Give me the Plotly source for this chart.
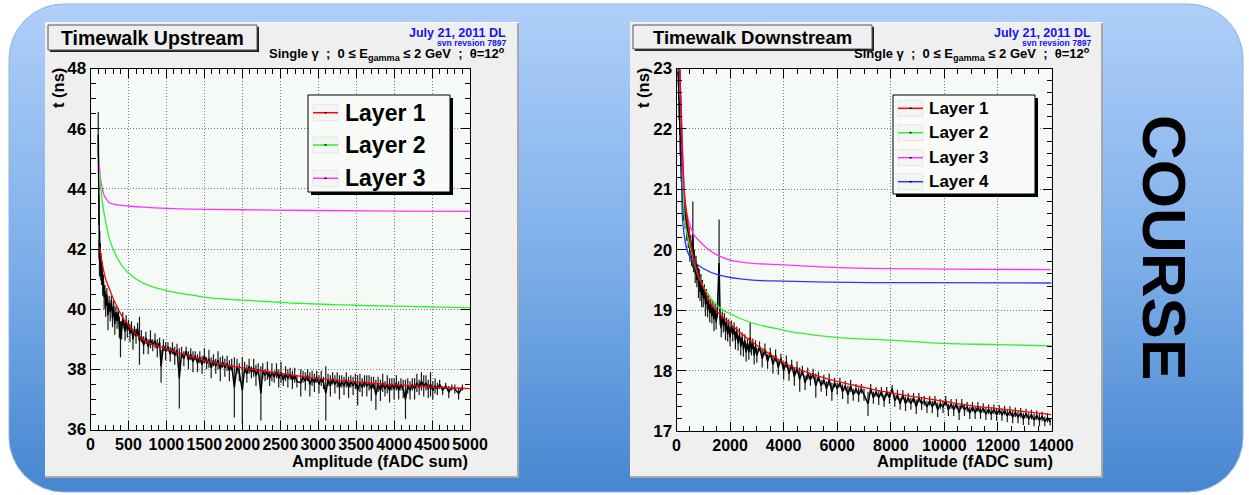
import base64
import plotly.graph_objects as go

W, H = 1249, 495
FONT = "Liberation Sans"

# ---------------- data: upstream (left) ----------------
up_amp = [102, 106, 110, 114, 118, 122, 126, 130, 135, 140,
          145, 150, 160, 170, 180, 190, 200, 215, 230, 245,
          260, 275, 290, 305, 320, 335, 350, 365, 380, 395,
          410, 425, 440, 455, 470, 485, 500, 520, 540, 560,
          580, 600, 620, 645, 670, 700, 730, 760, 790, 820,
          850, 880, 910, 930, 960, 990, 1020, 1050, 1080, 1110,
          1140, 1170, 1200, 1230, 1260, 1290, 1320, 1350, 1380, 1410,
          1440, 1470, 1500, 1530, 1560, 1590, 1620, 1650, 1680, 1710,
          1740, 1770, 1800, 1830, 1860, 1895, 1930, 1960, 2000, 2030,
          2060, 2090, 2120, 2150, 2180, 2210, 2245, 2270, 2300, 2330,
          2360, 2390, 2420, 2450, 2480, 2510, 2540, 2570, 2600, 2630,
          2660, 2690, 2720, 2770, 2800, 2830, 2860, 2890, 2920, 2950,
          2980, 3010, 3040, 3070, 3100, 3130, 3160, 3190, 3220, 3250,
          3280, 3310, 3340, 3370, 3400, 3430, 3460, 3490, 3520, 3550,
          3580, 3610, 3640, 3670, 3700, 3730, 3760, 3790, 3820, 3850,
          3880, 3910, 3940, 3970, 4000, 4030, 4060, 4090, 4120, 4150,
          4180, 4210, 4240, 4270, 4300, 4330, 4360, 4390, 4420, 4450,
          4480, 4510, 4540, 4570, 4600, 4640, 4680, 4720, 4760, 4800,
          4850, 4900]
up_t = [45.8, 44.7, 43.3, 42.0, 41.7, 42.2, 41.5, 41.9, 41.3, 41.6,
        41.1, 41.4, 40.8, 40.95, 40.4, 40.6, 40.1, 40.5, 39.8, 40.2,
        39.9, 40.3, 39.7, 40.1, 39.5, 39.9, 39.6, 39.9, 39.4, 39.0,
        39.3, 39.7, 39.5, 39.25, 39.6, 39.3, 39.5, 39.2, 39.4, 39.0,
        39.3, 39.1, 39.35, 38.95, 39.1, 38.8, 39.05, 38.75, 39.0, 38.8,
        38.95, 38.7, 38.9, 38.1, 38.8, 38.6, 38.75, 38.5, 38.7, 38.45,
        38.65, 37.7, 38.55, 38.35, 38.6, 38.3, 38.5, 38.25, 38.45, 38.2,
        38.4, 38.15, 38.45, 38.2, 38.35, 38.05, 38.3, 38.1, 38.3, 38.0,
        38.25, 38.05, 38.2, 37.95, 38.15, 37.4, 38.1, 37.9, 37.3, 38.05,
        37.85, 38.1, 37.9, 38.05, 37.8, 38.0, 37.2, 37.95, 37.8, 37.95,
        37.7, 37.9, 37.75, 37.95, 37.7, 37.9, 37.65, 37.85, 37.7, 37.85,
        37.65, 37.8, 37.6, 37.55, 37.75, 37.6, 37.8, 37.5, 37.7, 37.55,
        37.75, 37.5, 37.7, 37.55, 37.2, 37.65, 37.45, 37.7, 37.5, 37.65,
        37.4, 37.6, 37.45, 37.65, 37.4, 37.6, 37.45, 37.6, 37.3, 37.55,
        37.4, 37.6, 37.45, 37.55, 37.35, 37.55, 37.15, 37.5, 37.3, 37.55,
        37.35, 37.5, 37.3, 37.5, 37.35, 37.55, 37.3, 37.5, 37.35, 37.0,
        37.45, 37.3, 37.5, 37.35, 37.55, 37.4, 37.6, 37.45, 37.55, 37.35,
        37.5, 37.3, 37.45, 37.35, 37.5, 37.3, 37.45, 37.25, 37.4, 37.35,
        37.2, 37.4]
up_err = [0.75, 0.3, 0.5, 0.35, 0.6, 0.4, 0.45, 0.3, 0.35, 0.25,
          0.3, 0.2, 0.35, 0.2, 0.4, 0.2, 0.35, 0.2, 0.5, 0.25,
          0.3, 0.15, 0.3, 0.2, 0.35, 0.2, 0.25, 0.15, 0.35, 0.6,
          0.3, 0.2, 0.15, 0.3, 0.2, 0.25, 0.15, 0.3, 0.2, 0.35,
          0.15, 0.25, 0.2, 0.8, 0.2, 0.3, 0.2, 0.25, 0.3, 0.2,
          0.25, 0.3, 0.15, 0.55, 0.2, 0.3, 0.15, 0.25, 0.2, 0.3,
          0.2, 1.0, 0.2, 0.25, 0.15, 0.3, 0.2, 0.35, 0.15, 0.3,
          0.2, 0.3, 0.25, 0.2, 0.3, 0.35, 0.2, 0.25, 0.3, 0.4,
          0.2, 0.3, 0.25, 0.35, 0.2, 1.0, 0.25, 0.3, 1.1, 0.2,
          0.3, 0.25, 0.2, 0.3, 0.35, 0.2, 0.9, 0.25, 0.2, 0.3,
          0.25, 0.3, 0.2, 0.25, 0.3, 0.35, 0.2, 0.25, 0.3, 0.2,
          0.3, 0.25, 0.2, 0.45, 0.2, 0.3, 0.2, 0.4, 0.25, 0.3,
          0.2, 0.3, 0.25, 0.2, 0.9, 0.2, 0.35, 0.2, 0.3, 0.25,
          0.4, 0.2, 0.3, 0.25, 0.35, 0.2, 0.3, 0.25, 0.5, 0.3,
          0.3, 0.2, 0.35, 0.25, 0.4, 0.2, 0.5, 0.25, 0.35, 0.3,
          0.25, 0.3, 0.4, 0.2, 0.35, 0.25, 0.3, 0.2, 0.3, 0.65,
          0.25, 0.3, 0.2, 0.35, 0.3, 0.25, 0.3, 0.35, 0.25, 0.3,
          0.4, 0.3, 0.25, 0.2, 0.15, 0.15, 0.1, 0.2, 0.1, 0.15,
          0.2, 0.1]

up_fit_amp = [120, 160, 200, 250, 300, 350, 400, 450, 500, 600, 700, 800, 900, 1000,
              1100, 1200, 1300, 1400, 1500, 1600, 1700, 1800, 1900, 2000, 2200, 2400,
              2600, 2800, 3000, 3200, 3400, 3600, 3800, 4000, 4200, 4400, 4600, 4800, 5000]
up_fit_L1 = [42.05, 41.45, 41.0, 40.67, 40.35, 40.08, 39.83, 39.62, 39.46, 39.17, 38.98,
             38.84, 38.76, 38.69, 38.6, 38.52, 38.44, 38.37, 38.30, 38.24, 38.19, 38.13,
             38.09, 38.05, 37.97, 37.90, 37.83, 37.76, 37.69, 37.65, 37.60, 37.56, 37.52,
             37.49, 37.46, 37.43, 37.40, 37.38, 37.36]
up_fit_L2 = [44.5, 43.5, 42.9, 42.33, 41.98, 41.71, 41.5, 41.33, 41.2, 41.0, 40.86,
             40.76, 40.68, 40.62, 40.57, 40.52, 40.48, 40.44, 40.4, 40.37, 40.35, 40.33,
             40.31, 40.3, 40.27, 40.24, 40.21, 40.19, 40.17, 40.15, 40.14, 40.12, 40.11,
             40.10, 40.09, 40.08, 40.07, 40.06, 40.05]
up_L3_amp = [118, 140, 184, 250, 350, 500, 700, 1000, 1500, 2230, 3000, 4000, 5000]
up_fit_L3 = [44.75, 44.2, 43.76, 43.54, 43.47, 43.43, 43.39, 43.35, 43.32, 43.3, 43.28, 43.26, 43.25]

# ---------------- data: downstream (right) ----------------
dn_amp = [60, 80, 100, 120, 140, 160, 180, 200, 230, 260,
          290, 320, 350, 380, 410, 440, 470, 500, 530, 560,
          590, 610, 640, 670, 700, 730, 760, 790, 820, 850,
          880, 910, 940, 970, 1000, 1040, 1080, 1120, 1160, 1200,
          1240, 1280, 1320, 1360, 1400, 1440, 1480, 1520, 1590, 1630,
          1670, 1710, 1750, 1790, 1830, 1870, 1910, 1950, 2000, 2050,
          2100, 2150, 2200, 2250, 2300, 2350, 2400, 2450, 2500, 2550,
          2600, 2650, 2700, 2750, 2800, 2850, 2900, 2950, 3000, 3100,
          3200, 3300, 3400, 3500, 3600, 3700, 3800, 3900, 4000, 4100,
          4200, 4300, 4400, 4500, 4600, 4700, 4800, 4900, 5000, 5100,
          5200, 5300, 5400, 5500, 5600, 5700, 5800, 5900, 6000, 6100,
          6200, 6300, 6400, 6500, 6600, 6700, 6800, 6900, 7000, 7150,
          7250, 7350, 7450, 7550, 7650, 7750, 7850, 7950, 8050, 8150,
          8250, 8350, 8450, 8550, 8650, 8750, 8850, 8950, 9050, 9150,
          9250, 9350, 9450, 9550, 9650, 9750, 9850, 9950, 10050, 10150,
          10250, 10350, 10450, 10550, 10650, 10750, 10850, 10950, 11050, 11150,
          11250, 11350, 11450, 11550, 11650, 11750, 11850, 11950, 12050, 12150,
          12250, 12350, 12450, 12550, 12650, 12750, 12850, 12950, 13050, 13150,
          13250, 13350, 13450, 13550, 13650, 13750, 13850, 13950]
dn_t = [22.95, 22.6, 22.3, 22.0, 21.7, 21.5, 21.25, 21.05, 20.9, 20.6,
        20.75, 20.5, 20.6, 20.3, 20.45, 20.15, 20.3, 19.95, 20.15, 19.85,
        20.0, 20.25, 19.75, 19.9, 19.6, 19.8, 19.5, 19.65, 19.45, 19.6,
        19.3, 19.5, 19.25, 19.4, 19.2, 19.35, 19.1, 19.25, 19.0, 19.15,
        18.95, 19.1, 18.9, 19.05, 18.85, 19.0, 18.8, 18.95, 19.78, 18.85,
        18.7, 18.9, 18.75, 18.85, 18.65, 18.8, 18.6, 18.75, 18.55, 18.75,
        18.6, 18.7, 18.5, 18.65, 18.45, 18.6, 18.4, 18.55, 18.35, 18.5,
        18.3, 18.45, 18.3, 18.55, 18.35, 18.45, 18.25, 18.4, 18.25, 18.4,
        18.2, 18.35, 18.15, 18.3, 18.1, 18.25, 18.05, 18.2, 18.0, 18.15,
        17.95, 18.1, 17.9, 18.05, 17.85, 18.0, 17.8, 17.95, 17.85, 17.95,
        17.75, 17.9, 17.75, 17.85, 17.7, 17.85, 17.65, 17.8, 17.7, 17.8,
        17.65, 17.75, 17.6, 17.75, 17.6, 17.7, 17.6, 17.7, 17.6, 17.45,
        17.7, 17.55, 17.65, 17.55, 17.65, 17.5, 17.65, 17.55, 17.7, 17.5,
        17.6, 17.45, 17.6, 17.45, 17.55, 17.45, 17.55, 17.4, 17.55, 17.45,
        17.5, 17.4, 17.5, 17.4, 17.5, 17.35, 17.45, 17.4, 17.5, 17.35,
        17.45, 17.35, 17.45, 17.3, 17.45, 17.35, 17.4, 17.3, 17.4, 17.3,
        17.4, 17.3, 17.38, 17.28, 17.36, 17.28, 17.36, 17.27, 17.35, 17.27,
        17.34, 17.25, 17.33, 17.23, 17.31, 17.23, 17.3, 17.2, 17.29, 17.2,
        17.27, 17.18, 17.26, 17.18, 17.24, 17.16, 17.22, 17.15]
dn_err = [0.08, 0.12, 0.15, 0.1, 0.15, 0.1, 0.12, 0.1, 0.15, 0.12,
          0.1, 0.15, 0.08, 0.15, 0.1, 0.12, 0.08, 0.15, 0.1, 0.12,
          0.08, 0.55, 0.12, 0.1, 0.15, 0.1, 0.12, 0.1, 0.25, 0.08,
          0.15, 0.1, 0.2, 0.1, 0.15, 0.08, 0.2, 0.1, 0.12, 0.1,
          0.15, 0.08, 0.12, 0.1, 0.2, 0.1, 0.12, 0.08, 0.72, 0.1,
          0.15, 0.08, 0.12, 0.1, 0.15, 0.08, 0.12, 0.1, 0.15, 0.08,
          0.12, 0.1, 0.15, 0.08, 0.12, 0.1, 0.15, 0.08, 0.12, 0.1,
          0.15, 0.08, 0.12, 0.25, 0.1, 0.08, 0.15, 0.1, 0.12, 0.08,
          0.15, 0.1, 0.12, 0.08, 0.15, 0.1, 0.12, 0.08, 0.15, 0.1,
          0.12, 0.08, 0.15, 0.1, 0.2, 0.08, 0.12, 0.1, 0.1, 0.08,
          0.2, 0.08, 0.1, 0.08, 0.12, 0.1, 0.15, 0.08, 0.1, 0.08,
          0.12, 0.08, 0.15, 0.1, 0.1, 0.08, 0.12, 0.08, 0.1, 0.2,
          0.08, 0.1, 0.08, 0.12, 0.08, 0.1, 0.08, 0.1, 0.06, 0.1,
          0.08, 0.1, 0.08, 0.12, 0.08, 0.1, 0.08, 0.12, 0.08, 0.1,
          0.08, 0.1, 0.08, 0.1, 0.08, 0.12, 0.08, 0.1, 0.08, 0.1,
          0.08, 0.1, 0.08, 0.12, 0.08, 0.1, 0.08, 0.1, 0.08, 0.1,
          0.08, 0.1, 0.08, 0.1, 0.08, 0.1, 0.08, 0.1, 0.08, 0.1,
          0.08, 0.1, 0.08, 0.1, 0.08, 0.1, 0.08, 0.1, 0.08, 0.1,
          0.08, 0.1, 0.08, 0.1, 0.08, 0.08, 0.08, 0.06]

dn_L1_amp = [130, 190, 250, 310, 440, 625, 875, 1000, 1370, 2000, 2740, 3000, 4000,
             5000, 6000, 7000, 8000, 9000, 10000, 11000, 12000, 13000, 14000]
dn_fit_L1 = [23.0, 21.9, 21.3, 20.88, 20.38, 19.88, 19.5, 19.38, 19.05, 18.78, 18.5, 18.42,
             18.13, 17.95, 17.82, 17.72, 17.63, 17.56, 17.49, 17.42, 17.37, 17.32, 17.27]
dn_L2_amp = [110, 190, 310, 565, 875, 1250, 1590, 2000, 2740, 4000, 4600, 5965, 8080,
             9950, 12050, 14000]
dn_fit_L2 = [23.1, 22.0, 20.49, 19.94, 19.5, 19.22, 19.05, 18.94, 18.8, 18.67, 18.62,
             18.55, 18.5, 18.45, 18.43, 18.41]
dn_L3_amp = [110, 190, 250, 340, 625, 800, 1000, 1300, 1590, 2000, 2740, 4000, 6480,
             9950, 14000]
dn_fit_L3 = [23.1, 22.2, 21.43, 20.71, 20.27, 20.17, 20.08, 19.97, 19.9, 19.83, 19.78,
             19.75, 19.70, 19.68, 19.67]
dn_L4_amp = [100, 190, 250, 500, 1000, 1590, 2740, 4000, 6480, 9000, 14000]
dn_fit_L4 = [23.1, 22.0, 20.38, 19.88, 19.69, 19.58, 19.50, 19.48, 19.46, 19.455, 19.45]

up_legend = ["Layer 1", "Layer 2", "Layer 3"]
dn_legend = ["Layer 1", "Layer 2", "Layer 3", "Layer 4"]
C_RED, C_GREEN, C_MAG, C_BLUE = "#ff0000", "#33ee33", "#ff33ff", "#3333ff"


def px(x):
    return x / W


def py(y):
    return 1 - y / H


fig = go.Figure()


def data_trace(x, y, e, xa, ya):
    return go.Scatter(x=x, y=y, mode="lines", line=dict(color="black", width=1.5),
                      error_y=dict(type="data", array=e, color="#1a1a1a",
                                   thickness=1.2, width=0),
                      xaxis=xa, yaxis=ya, showlegend=False, hoverinfo="skip")


def fit_trace(x, y, c, xa, ya):
    return go.Scatter(x=x, y=y, mode="lines", line=dict(color=c, width=1.3, shape="spline"),
                      xaxis=xa, yaxis=ya, showlegend=False, hoverinfo="skip")


fig.add_trace(data_trace(up_amp, up_t, up_err, "x", "y"))
fig.add_trace(fit_trace(up_L3_amp, up_fit_L3, C_MAG, "x", "y"))
fig.add_trace(fit_trace(up_fit_amp, up_fit_L2, C_GREEN, "x", "y"))
fig.add_trace(fit_trace(up_fit_amp, up_fit_L1, C_RED, "x", "y"))

fig.add_trace(data_trace(dn_amp, dn_t, dn_err, "x2", "y2"))
fig.add_trace(fit_trace(dn_L2_amp, dn_fit_L2, C_GREEN, "x2", "y2"))
fig.add_trace(fit_trace(dn_L3_amp, dn_fit_L3, C_MAG, "x2", "y2"))
fig.add_trace(fit_trace(dn_L4_amp, dn_fit_L4, C_BLUE, "x2", "y2"))
fig.add_trace(fit_trace(dn_L1_amp, dn_fit_L1, C_RED, "x2", "y2"))


def axis(rng, dtick, minor_dtick, domain, anchor, size):
    return dict(range=rng, domain=domain, anchor=anchor, showline=True, linecolor="black",
                linewidth=1, mirror="ticks", ticks="inside", ticklen=9, tickwidth=1,
                tickcolor="black", tick0=rng[0], dtick=dtick, showgrid=True,
                gridcolor="#777777", griddash="1px,2px", gridwidth=1, zeroline=False,
                tickangle=0, tickformat="d", automargin=False,
                tickfont=dict(family=FONT, size=size, color="black", weight="bold"),
                minor=dict(dtick=minor_dtick, tick0=rng[0], ticks="inside", ticklen=5,
                           tickcolor="black", showgrid=False),
                fixedrange=True)


L_X = [px(90.5), px(470)]
L_Y = [py(429.5), py(68.5)]
R_X = [px(676.5), px(1051.5)]
R_Y = [py(431), py(68.5)]

shapes = []


def rect(x0, y0, x1, y1, fill, line=None, lw=1, layer="below"):
    shapes.append(dict(type="rect", xref="paper", yref="paper", x0=px(x0), x1=px(x1),
                       y0=py(y1), y1=py(y0), fillcolor=fill, layer=layer,
                       line=dict(color=line or fill, width=lw if line else 0)))


def hline(x0, x1, y, color, width, layer="above"):
    shapes.append(dict(type="line", xref="paper", yref="paper", x0=px(x0), x1=px(x1),
                       y0=py(y), y1=py(y), layer=layer, line=dict(color=color, width=width)))


# panels (ROOT canvases)
for (x0, y0, x1, y1) in [(45, 22, 519, 478), (630, 22, 1103, 478)]:
    rect(x0, y0, x1, y1, "#efefef")
    rect(x1 - 2, y0, x1, y1, "#a8a8a8")
    rect(x0, y1 - 2, x1, y1, "#a8a8a8")
    rect(x0, y0, x1, y0 + 1, "#fafafa")
# frame backgrounds
rect(90.5, 68.5, 470, 429.5, "#f6faf6")
rect(676.5, 68.5, 1051.5, 431, "#f6faf6")
# title boxes
rect(50, 27, 259, 52, "#222222")
rect(48, 25, 257, 50, "#efefef", "#555555", 1)
rect(635, 27, 874, 51, "#222222")
rect(633, 25, 872, 49, "#efefef", "#555555", 1)

annotations = []


def text(x, y, s, size, color="black", xanchor="center", yanchor="middle", angle=0):
    annotations.append(dict(x=px(x), y=py(y), xref="paper", yref="paper", text=s,
                            showarrow=False, xanchor=xanchor, yanchor=yanchor,
                            textangle=angle, borderpad=0,
                            font=dict(family=FONT, size=size, color=color)))


def legend(box, rows, sx0, sx1, tx, size, labels, colors):
    x0, y0, x1, y1 = box
    rect(x0 + 3, y0 + 3, x1 + 3, y1 + 3, "black", layer="above")
    rect(x0, y0, x1, y1, "#f8fbf8", "black", 1, layer="above")
    for ry, lab, col in zip(rows, labels, colors):
        rect(sx0, ry - 8, sx1, ry + 8, "#f4f6f4", "#e4e6e4", 1, layer="above")
        hline(sx0, sx1, ry, col, 1.5)
        hline((sx0 + sx1) / 2 - 1, (sx0 + sx1) / 2 + 1, ry, "black", 1.5)
        text(tx, ry, "<b>%s</b>" % lab, size, xanchor="left")


legend((308, 95, 450, 192), [112.7, 145, 178.3], 313, 338, 344, 23, up_legend,
       [C_RED, C_GREEN, C_MAG])
legend((893, 95, 1035, 194), [108.3, 132.7, 157.7, 181.7], 898, 923, 928, 17, dn_legend,
       [C_RED, C_GREEN, C_MAG, C_BLUE])

NB = "\u00a0"
single = ("<b>Single γ" + NB + NB + ";" + NB + NB + "0 ≤ E<sub>gamma</sub> ≤ 2 GeV" + NB + NB +
          ";" + NB + NB + "θ=12<sup>o</sup></b>")
for (tc, title, tsize, rx) in [(152.5, "Timewalk Upstream", 19.5, 507),
                                (752.5, "Timewalk Downstream", 18.5, 1092)]:
    text(tc, 37.5, "<b>%s</b>" % title, tsize)
    text(rx, 33, "<b>July 21, 2011 DL</b>", 12.5, color="#1515f0", xanchor="right")
    text(rx, 43, "<b>svn revsion 7897</b>", 8.6, color="#1515f0", xanchor="right")
    text(rx - 1, 54, single, 13, xanchor="right")

text(58, 67, "<b>t (ns)</b>", 16.5, yanchor="top", angle=-90)
text(643, 67, "<b>t (ns)</b>", 16.5, yanchor="top", angle=-90)
text(469, 461, "<b>Amplitude (fADC sum)</b>", 16.5, xanchor="right")
text(1054, 461, "<b>Amplitude (fADC sum)</b>", 16.5, xanchor="right")
text(1165, 247, "<b>COURSE</b>", 62, angle=90)

svg = ("<svg xmlns='http://www.w3.org/2000/svg' width='1249' height='495' viewBox='0 0 1249 495'>"
       "<defs><linearGradient id='g' x1='0' y1='0' x2='0' y2='1'>"
       "<stop offset='0' stop-color='#b0cff9'/><stop offset='0.5' stop-color='#7fb0ea'/>"
       "<stop offset='1' stop-color='#4786d0'/></linearGradient></defs>"
       "<rect x='9' y='4' width='1234' height='488' rx='55' ry='55' fill='url(#g)' "
       "stroke='#8fb2e0' stroke-width='1'/></svg>")
src = "data:image/svg+xml;base64," + base64.b64encode(svg.encode()).decode()

fig.update_layout(
    width=W, height=H, autosize=False,
    margin=dict(l=0, r=0, t=0, b=0, pad=0, autoexpand=False),
    paper_bgcolor="white", plot_bgcolor="rgba(0,0,0,0)",
    showlegend=False,
    xaxis=axis([0, 5000], 500, 100, L_X, "y", 16),
    yaxis=axis([36, 48], 2, 0.5, L_Y, "x", 17),
    xaxis2=axis([0, 14000], 2000, 500, R_X, "y2", 16),
    yaxis2=axis([17, 23], 1, 0.2, R_Y, "x2", 17),
    shapes=shapes, annotations=annotations,
    images=[dict(source=src, xref="paper", yref="paper", x=0, y=1, sizex=1, sizey=1,
                 xanchor="left", yanchor="top", sizing="stretch", layer="below")],
)

fig.write_html("out.html",
               post_script="document.body.style.margin='0';"
                           "document.body.style.overflow='hidden';"
                           "document.documentElement.style.overflow='hidden';")
